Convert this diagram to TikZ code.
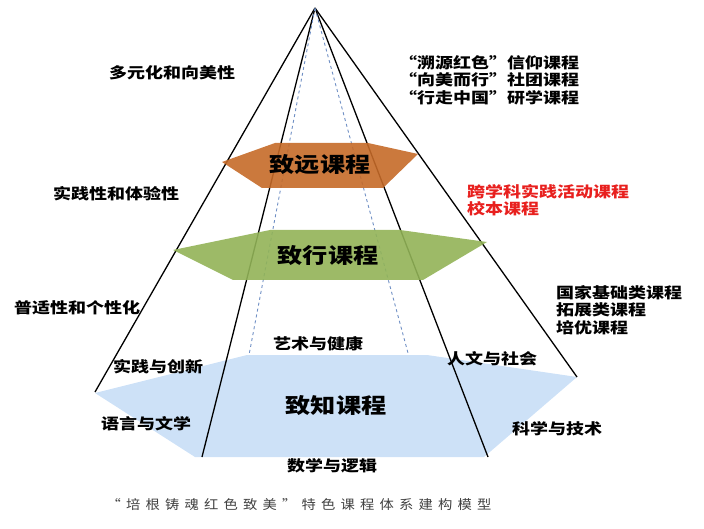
\documentclass[tikz,border=0pt]{standalone}
\usepackage{fontspec}
\setmainfont{Noto Sans CJK SC}[FakeStretch=1.2]
\newfontfamily\capfont{Noto Sans CJK SC}[FakeStretch=1.1,LetterSpace=40]
\definecolor{farorange}{HTML}{C56A28}
\definecolor{actgreen}{HTML}{92B357}
\definecolor{knowblue}{HTML}{CDE1F7}
\definecolor{dashblue}{HTML}{6F8FC4}
\definecolor{schoolred}{HTML}{E8201E}
\tikzset{
  lbl/.style={font=\fontsize{15}{17.5}\selectfont\bfseries,inner sep=0pt},
  lblblock/.style={lbl,anchor=west,align=left},
  tier/.style={font=\fontsize{21}{24}\selectfont\bfseries,inner sep=0pt},
}

\begin{document}
\begin{tikzpicture}[x=1pt,y=-1pt]
  \useasboundingbox (0,0) rectangle (704,529);
  \coordinate (apex) at (315,8);
  \coordinate (outL) at (95,392);
  \coordinate (outR) at (577,377);
  \coordinate (inL) at (202,457);
  \coordinate (inR) at (488,457);
  \coordinate (dashL) at (249,355);
  \coordinate (dashR) at (408,353);

  % bottom tier, under the lines
  \fill[knowblue] (95,393) -- (247,355) -- (427,355) -- (577,377) -- (484,457) -- (195,457) -- cycle;

  % pyramid edges
  \draw[line width=1.3pt] (apex) -- (outL) (apex) -- (outR);
  \draw[line width=1.3pt] (apex) -- (inL) (apex) -- (inR);
  \draw[dashblue,dashed,line width=0.9pt] (apex) -- (dashL) (apex) -- (dashR);

  % upper tiers
  \fill[farorange,fill opacity=0.9] (222,162) -- (275,143) -- (368,143) -- (418,154) -- (383,188) -- (262,188) -- cycle;
  \fill[actgreen,fill opacity=0.9] (173,250) -- (270,230) -- (400,230) -- (487,242) -- (423,280) -- (233,280) -- cycle;

  \node[tier] (far) at (320,165) {致远课程};
  \node[tier] (act) at (328,256) {致行课程};
  \node[tier] (know) at (336,406) {致知课程};

  % traits on the left
  \node[lbl] (traitA) at (172,73) {多元化和向美性};
  \node[lbl] (traitB) at (116,194) {实践性和体验性};
  \node[lbl] (traitC) at (77,308) {普适性和个性化};

  % courses on the right
  \node[lblblock] (farlist) at (399,80) {“溯源红色”信仰课程\\“向美而行”社团课程\\“行走中国”研学课程};
  \node[lblblock,text=schoolred] (actlist) at (467,200) {跨学科实践活动课程\\校本课程};
  \node[lblblock] (knowlist) at (556,310) {国家基础类课程\\拓展类课程\\培优课程};

  % fields of the base
  \node[lbl] (art) at (318,344) {艺术与健康};
  \node[lbl] (prac) at (158,367) {实践与创新};
  \node[lbl] (hum) at (492,359) {人文与社会};
  \node[lbl] (lang) at (146,424) {语言与文学};
  \node[lbl] (sci) at (557,429) {科学与技术};
  \node[lbl] (math) at (332,466) {数学与逻辑};

  \node[font=\capfont\fontsize{13}{15}\selectfont,text=black!75,inner sep=0pt] (caption) at (299,505) {“培根铸魂红色致美”特色课程体系建构模型};
\end{tikzpicture}
\end{document}
